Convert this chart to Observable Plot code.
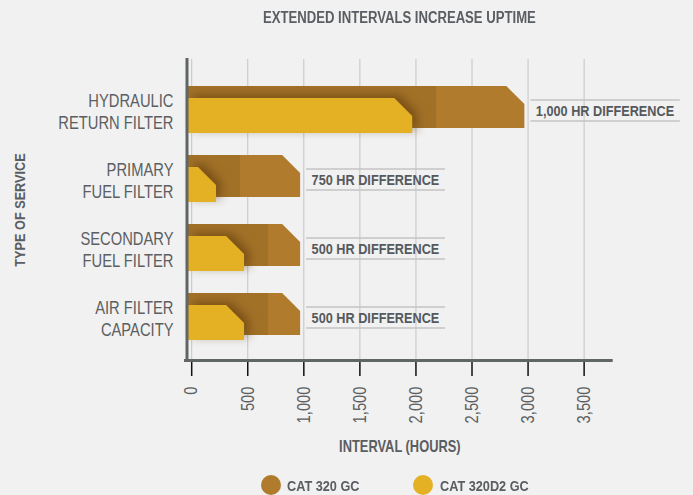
<!DOCTYPE html>
<html>
<head>
<meta charset="utf-8">
<script src="https://cdn.jsdelivr.net/npm/d3@7"></script>
<script src="https://cdn.jsdelivr.net/npm/@observablehq/plot@0.6"></script>
<style>
  html, body { margin: 0; padding: 0; background: #f1f1f1; }
  body { width: 693px; height: 495px; overflow: hidden; position: relative;
         font-family: "Liberation Sans", Arial, sans-serif; color: #5a5d61; }
  #title { position: absolute; left: 188px; width: 423px; top: 0; height: 36px; line-height: 36px;
           text-align: center; font-weight: bold; font-size: 16px; }
  #title span { display: inline-block; transform: scaleX(0.82); transform-origin: center; white-space: nowrap; }
  #chart { position: absolute; left: 0; top: 36px; }
  .dot { position: absolute; top: 475px; width: 20px; height: 20px; border-radius: 50%; }
  .ltext { position: absolute; top: 475px; height: 20px; line-height: 22px; font-weight: bold; font-size: 15.5px;
           transform: scaleX(0.82); transform-origin: left; white-space: nowrap; }
</style>
</head>
<body>
<div id="title"><span>EXTENDED INTERVALS INCREASE UPTIME</span></div>
<div id="chart"></div>
<div id="legend"></div>
<script>
// ---- data ----
const services = ["HYDRAULIC\nRETURN FILTER", "PRIMARY\nFUEL FILTER", "SECONDARY\nFUEL FILTER", "AIR FILTER\nCAPACITY"];
const cat320gc = [3000, 1000, 1000, 1000];
const cat320d2gc = [2000, 250, 500, 500];
const xTicks = [0, 500, 1000, 1500, 2000, 2500, 3000, 3500];
const seriesNames = ["CAT 320 GC", "CAT 320D2 GC"];

const rows = services.map((s, i) => ({service: s, gc: cat320gc[i], d2: cat320d2gc[i]}));

// ---- style ----
const FONT = '"Liberation Sans", Arial, sans-serif';
const SQUEEZE = 0.82; // narrow look
const GC = "#b07b2c", D2 = "#e4b125", LINE = "#c4c4c4", TEXT = "#5c5f62", AXIS = "#606566";
const seriesColors = [GC, D2];
const legendPos = [{dot: 260.7, text: 286.7}, {dot: 413.3, text: 440}];

const fmt = d3.format(",");
const labelText = d => `${fmt(d.gc - d.d2)} HR DIFFERENCE`;

const ctx = document.createElement("canvas").getContext("2d");
ctx.font = `bold 15.5px ${FONT}`;

const labelLines = rows.flatMap(d => {
  const w = ctx.measureText(labelText(d)).width * SQUEEZE;
  const common = {x1: "gc", x2: "gc", y: "service", fill: LINE, insetLeft: 6, insetRight: -(11 + w + 6)};
  return [
    Plot.barX([d], {...common, insetTop: 23.25, insetBottom: 44.25}),
    Plot.barX([d], {...common, insetTop: 44.25, insetBottom: 23.25})
  ];
});

const plot = Plot.plot({
  width: 693, height: 422,
  marginLeft: 188, marginRight: 82.3, marginTop: 23, marginBottom: 98,
  style: {background: "transparent", fontFamily: FONT, overflow: "visible"},
  x: {domain: [0, 3770]},
  y: {domain: services, paddingInner: 0, paddingOuter: 0.181, align: 0.68},
  marks: [
    Plot.gridX(xTicks, {stroke: LINE, strokeOpacity: 1, strokeWidth: 1, dx: 3.2}),
    Plot.barX(rows, {x: "gc", y: "service", fill: GC, insetTop: 10, insetBottom: 17}),
    Plot.barX(rows, {x: "d2", y: "service", fill: "#000", fillOpacity: 0.08, insetTop: 10, insetBottom: 17, insetRight: -24}),
    Plot.ruleX(rows, {x: "d2", y: "service", dx: 24, insetTop: 10, insetBottom: 17, stroke: "#d09a32", strokeWidth: 1}),
    Plot.barX(rows, {x: "d2", y: "service", fill: D2, insetTop: 22, insetBottom: 12}),
    ...labelLines,
    Plot.text(rows, {x: "gc", y: "service", text: labelText, dx: 11, textAnchor: "start",
      fontWeight: "bold", fontSize: 15.5, fill: "#55595d"}),
    Plot.axisX({ticks: xTicks, tickFormat: fmt, tickRotate: -90, tickSize: 16, tickPadding: 10, fontSize: 18,
      dx: 3.2, stroke: "#111", strokeWidth: 1.5, fill: TEXT, label: null}),
    Plot.axisY({tickSize: 0, tickPadding: 15, fontSize: 18, lineHeight: 1.2, fill: TEXT, label: null}),
    Plot.frame({anchor: "left", stroke: AXIS, strokeWidth: 3, dx: -1.5}),
    Plot.frame({anchor: "bottom", stroke: AXIS, strokeWidth: 3, insetLeft: -3}),
    Plot.text(["INTERVAL (HOURS)"], {frameAnchor: "bottom", text: d => d, dy: 86, textAnchor: "middle", lineAnchor: "middle",
      fontWeight: "bold", fontSize: 15.7, fill: "#5a5d61"}),
    Plot.text(["TYPE OF SERVICE"], {frameAnchor: "left", text: d => d, dx: -168.5, rotate: -90, textAnchor: "middle", lineAnchor: "middle",
      fontWeight: "bold", fontSize: 15.5, fill: "#5a5d61"})
  ]
});

// chamfer the top-right corner of the bars
function chamfer(fill, c) {
  d3.select(plot).selectAll(`g[fill="${fill}"] rect`).each(function() {
    const x = +this.getAttribute("x"), y = +this.getAttribute("y");
    const w = +this.getAttribute("width"), h = +this.getAttribute("height");
    const k = Math.min(c, w, h);
    const p = document.createElementNS("http://www.w3.org/2000/svg", "path");
    p.setAttribute("d", `M${x},${y}H${x + w - k}L${x + w},${y + k}V${y + h}H${x}Z`);
    this.replaceWith(p);
  });
}
chamfer(GC, 18);
chamfer(D2, 18);
d3.select(plot).select(`g[fill="${D2}"]`).style("filter", "drop-shadow(5px -3px 5px rgba(70,40,0,0.45))");

// condensed text: squeeze horizontally about each text's anchor point
plot.querySelectorAll("text").forEach(t => {
  const x = parseFloat(t.getAttribute("x")) || 0;
  const tr = t.getAttribute("transform") || "";
  t.setAttribute("transform", `${tr} translate(${x},0) scale(${SQUEEZE},1) translate(${-x},0)`);
});

document.getElementById("chart").appendChild(plot);

// legend
const legend = d3.select("#legend");
seriesNames.forEach((name, i) => {
  legend.append("div").attr("class", "dot").style("left", legendPos[i].dot + "px").style("background", seriesColors[i]);
  legend.append("div").attr("class", "ltext").style("left", legendPos[i].text + "px").text(name);
});
</script>
</body>
</html>
